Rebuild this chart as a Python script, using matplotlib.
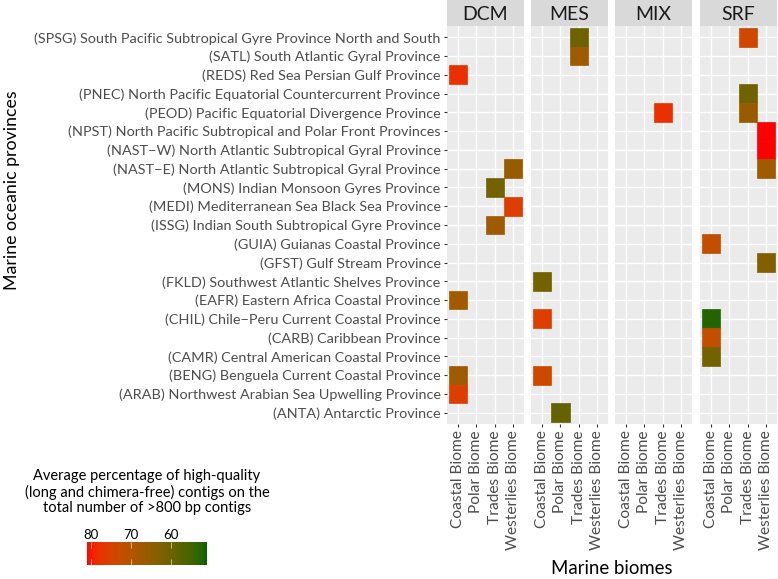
import numpy as np
import matplotlib
matplotlib.use("Agg")
import matplotlib.pyplot as plt
from matplotlib.colors import ListedColormap, Normalize
from matplotlib.patches import Rectangle

plt.rcParams['font.family'] = ['Lato', 'DejaVu Sans']

# ---------- data ----------
# provinces, bottom -> top (alphabetical by code, as ggplot orders a discrete y)
province_codes = ["ANTA", "ARAB", "BENG", "CAMR", "CARB", "CHIL", "EAFR", "FKLD",
                  "GFST", "GUIA", "ISSG", "MEDI", "MONS", "NAST-E", "NAST-W",
                  "NPST", "PEOD", "PNEC", "REDS", "SATL", "SPSG"]
province_labels = [
    "(ANTA) Antarctic Province",
    "(ARAB) Northwest Arabian Sea Upwelling Province",
    "(BENG) Benguela Current Coastal Province",
    "(CAMR) Central American Coastal Province",
    "(CARB) Caribbean Province",
    "(CHIL) Chile\u2212Peru Current Coastal Province",
    "(EAFR) Eastern Africa Coastal Province",
    "(FKLD) Southwest Atlantic Shelves Province",
    "(GFST) Gulf Stream Province",
    "(GUIA) Guianas Coastal Province",
    "(ISSG) Indian South Subtropical Gyre Province",
    "(MEDI) Mediterranean Sea Black Sea Province",
    "(MONS) Indian Monsoon Gyres Province",
    "(NAST\u2212E) North Atlantic Subtropical Gyral Province",
    "(NAST\u2212W) North Atlantic Subtropical Gyral Province",
    "(NPST) North Pacific Subtropical and Polar Front Provinces",
    "(PEOD) Pacific Equatorial Divergence Province",
    "(PNEC) North Pacific Equatorial Countercurrent Province",
    "(REDS) Red Sea Persian Gulf Province",
    "(SATL) South Atlantic Gyral Province",
    "(SPSG) South Pacific Subtropical Gyre Province North and South",
]
biomes = ["Coastal Biome", "Polar Biome", "Trades Biome", "Westerlies Biome"]
layers = ["DCM", "MES", "MIX", "SRF"]

# one entry per filled tile
cell_layer = ["DCM", "DCM", "DCM", "DCM", "DCM", "DCM", "DCM", "DCM",
              "MES", "MES", "MES", "MES", "MES", "MES",
              "MIX",
              "SRF", "SRF", "SRF", "SRF", "SRF", "SRF", "SRF", "SRF", "SRF", "SRF", "SRF"]
cell_province = ["REDS", "NAST-E", "MONS", "MEDI", "ISSG", "EAFR", "BENG", "ARAB",
                 "SPSG", "SATL", "FKLD", "CHIL", "BENG", "ANTA",
                 "PEOD",
                 "SPSG", "PNEC", "PEOD", "NPST", "NAST-W", "NAST-E", "GUIA", "GFST",
                 "CHIL", "CARB", "CAMR"]
cell_biome = ["Coastal Biome", "Westerlies Biome", "Trades Biome", "Westerlies Biome",
              "Trades Biome", "Coastal Biome", "Coastal Biome", "Coastal Biome",
              "Trades Biome", "Trades Biome", "Coastal Biome", "Coastal Biome",
              "Coastal Biome", "Polar Biome",
              "Trades Biome",
              "Trades Biome", "Trades Biome", "Trades Biome", "Westerlies Biome",
              "Westerlies Biome", "Westerlies Biome", "Coastal Biome", "Westerlies Biome",
              "Coastal Biome", "Coastal Biome", "Coastal Biome"]
cell_value = [78.0, 66.0, 61.0, 76.0, 67.0, 67.5, 67.0, 76.0,
              60.0, 67.0, 61.0, 76.0, 73.5, 59.0,
              78.0,
              74.0, 60.5, 66.0, 81.0, 81.0, 67.0, 72.0, 63.0,
              52.5, 72.0, 61.0]

vmin, vmax = 51.0, 81.0
cbar_ticks = [80, 70, 60]


# ---------- colour scale: ggplot-like gradient (Lab space) darkgreen -> red ----------
def rgb_to_lab(rgb):
    c = np.asarray(rgb, float)
    c = np.where(c > 0.04045, ((c + 0.055) / 1.055) ** 2.4, c / 12.92)
    M = np.array([[0.4124, 0.3576, 0.1805],
                  [0.2126, 0.7152, 0.0722],
                  [0.0193, 0.1192, 0.9505]])
    xyz = M @ c / np.array([0.95047, 1.0, 1.08883])
    f = np.where(xyz > 0.008856, np.cbrt(xyz), 7.787 * xyz + 16 / 116)
    return np.array([116 * f[1] - 16, 500 * (f[0] - f[1]), 200 * (f[1] - f[2])])


def lab_to_rgb(lab):
    L, a, b = lab
    fy = (L + 16) / 116
    f = np.array([fy + a / 500, fy, fy - b / 200])
    xyz = np.where(f ** 3 > 0.008856, f ** 3, (f - 16 / 116) / 7.787)
    xyz = xyz * np.array([0.95047, 1.0, 1.08883])
    M = np.array([[3.2406, -1.5372, -0.4986],
                  [-0.9689, 1.8758, 0.0415],
                  [0.0557, -0.2040, 1.0570]])
    c = M @ xyz
    c = np.where(c > 0.0031308, 1.055 * np.abs(c) ** (1 / 2.4) - 0.055, 12.92 * c)
    return np.clip(c, 0, 1)


lab_lo = rgb_to_lab([0.0, 100 / 255, 0.0])   # darkgreen
lab_hi = rgb_to_lab([1.0, 0.0, 0.0])         # red
cmap = ListedColormap([lab_to_rgb(lab_lo + (lab_hi - lab_lo) * t)
                       for t in np.linspace(0, 1, 256)])
norm = Normalize(vmin, vmax)

# ---------- figure ----------
fig = plt.figure(figsize=(7.78, 5.79), dpi=100)
W, H = 778.0, 579.0
panel_x = [447, 531, 615, 700]
panel_w = 77
panel_top, panel_bot = 26, 424
strip_h = 26

txt_col = "#4D4D4D"
nprov = len(province_codes)
for k, layer in enumerate(layers):
    ax = fig.add_axes([panel_x[k] / W, 1 - panel_bot / H,
                       panel_w / W, (panel_bot - panel_top) / H])
    ax.set_facecolor("#EBEBEB")
    ax.set_xlim(0.4, len(biomes) + 0.6)
    ax.set_ylim(0.4, nprov + 0.6)
    ax.set_xticks(range(1, len(biomes) + 1))
    ax.set_yticks(range(1, nprov + 1))
    ax.grid(True, color="white", linewidth=1.0)
    ax.set_axisbelow(True)
    for s in ax.spines.values():
        s.set_visible(False)
    ax.tick_params(length=2.5, width=0.8, color="#333333", labelcolor=txt_col,
                   labelsize=10.4, pad=2)
    ax.tick_params(axis="x", labelsize=11.2)
    ax.set_xticklabels(biomes, rotation=90)
    if k == 0:
        ax.set_yticklabels(province_labels)
    else:
        ax.tick_params(axis="y", length=0, labelleft=False)

    for lay, prov, bio, val in zip(cell_layer, cell_province, cell_biome, cell_value):
        if lay != layer:
            continue
        xi = biomes.index(bio) + 1
        yi = province_codes.index(prov) + 1
        col = cmap(norm(val))
        ax.add_patch(Rectangle((xi - 0.5, yi - 0.5), 1, 1, facecolor=col,
                               edgecolor=col, linewidth=0.5, zorder=3))

    sax = fig.add_axes([panel_x[k] / W, 1 - panel_top / H, panel_w / W, strip_h / H])
    sax.set_facecolor("#D9D9D9")
    sax.set_xticks([]); sax.set_yticks([])
    for s in sax.spines.values():
        s.set_visible(False)
    sax.text(0.5, 0.45, layer, ha="center", va="center", fontsize=14,
             color="#1A1A1A", transform=sax.transAxes)

fig.text(12 / W, 1 - 190 / H, "Marine oceanic provinces", rotation=90,
         ha="center", va="center", fontsize=12.8, color="black")
fig.text(612 / W, 1 - 568 / H, "Marine biomes", ha="center", va="center",
         fontsize=13.4, color="black")

# ---------- colour bar legend ----------
fig.text(147 / W, 1 - 492 / H,
         "Average percentage of high-quality\n(long and chimera-free) contigs on the\n"
         "total number of >800 bp contigs",
         ha="center", va="center", fontsize=10.5, linespacing=1.15, color="black")
cax = fig.add_axes([87 / W, 1 - 565 / H, 120 / W, 23 / H])
grad = np.linspace(vmax, vmin, 256).reshape(1, -1)
cax.imshow(grad, aspect="auto", cmap=cmap, norm=norm,
           extent=[vmax, vmin, 0, 1])
cax.set_xlim(vmax, vmin)
cax.set_yticks([])
cax.xaxis.set_ticks_position("both")
cax.set_xticks(cbar_ticks)
cax.tick_params(axis="x", direction="in", length=4, width=0.6, color="#FFFFFFAA",
                labeltop=True, labelbottom=False,
                labelsize=9.5, labelcolor="black", pad=1)
for s in cax.spines.values():
    s.set_visible(False)

fig.savefig("out.png", dpi=100)
